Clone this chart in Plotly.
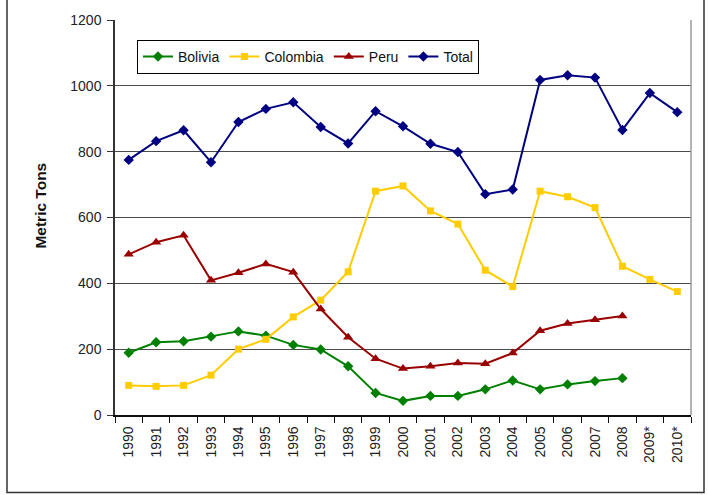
import plotly.graph_objects as go

years = ["1990", "1991", "1992", "1993", "1994", "1995", "1996", "1997", "1998", "1999",
         "2000", "2001", "2002", "2003", "2004", "2005", "2006", "2007", "2008", "2009*", "2010*"]

bolivia = [189, 221, 224, 238, 254, 241, 213, 199, 148, 67, 43, 58, 58, 78, 105, 78, 93, 103, 112, None, None]
colombia = [90, 87, 90, 121, 200, 230, 298, 349, 435, 680, 696, 620, 580, 440, 390, 680, 663, 630, 452, 412, 375]
peru = [488, 525, 546, 409, 432, 459, 434, 322, 236, 171, 141, 148, 158, 156, 188, 256, 278, 289, 301, None, None]
total = [775, 832, 865, 768, 890, 930, 950, 875, 825, 923, 877, 824, 799, 671, 685, 1018, 1032, 1025, 866, 978, 920]

y_ticks = [0, 200, 400, 600, 800, 1000, 1200]

FONT = "Liberation Sans, Arial, sans-serif"

fig = go.Figure()
series = [
    ("Bolivia", bolivia, "#008000", "diamond", 8),
    ("Colombia", colombia, "#FFCC00", "square", 7),
    ("Peru", peru, "#990000", "triangle-up", 9),
    ("Total", total, "#000080", "diamond", 8),
]
for name, vals, col, sym, sz in series:
    fig.add_trace(go.Scatter(
        x=years, y=vals, name=name, mode="lines+markers",
        line=dict(color=col, width=2),
        marker=dict(color=col, symbol=sym, size=sz),
        connectgaps=False,
    ))

L, R, T, B = 115, 17, 17, 80
W, H = 708, 495
pw, ph = W - L - R, H - T - B

def px_x(p):
    return (p - L) / pw

def px_y(p):
    return (H - B - p) / ph

fig.update_layout(
    width=W, height=H,
    margin=dict(l=L, r=R, t=T, b=B, pad=0),
    paper_bgcolor="white", plot_bgcolor="white",
    font=dict(family=FONT, size=14, color="#222222"),
    showlegend=True,
    legend=dict(
        orientation="h", x=px_x(137), y=px_y(37), xanchor="left", yanchor="top",
        bordercolor="#000000", borderwidth=1, bgcolor="white",
        font=dict(family=FONT, size=14, color="#111111"),
        itemwidth=30, tracegroupgap=0,
    ),
    xaxis=dict(
        type="category", categoryorder="array", categoryarray=years,
        range=[-0.5, len(years) - 0.5],
        showgrid=False, zeroline=False,
        showline=True, linecolor="#111111", linewidth=1.5,
        ticks="outside", tickson="boundaries", ticklen=6, tickcolor="#111111", tickwidth=1.2,
        ticklabelstandoff=4,
        tickangle=-90, tickfont=dict(family=FONT, size=14, color="#222222"),
        fixedrange=True,
    ),
    yaxis=dict(
        range=[0, 1200], tickvals=y_ticks, ticktext=[str(v) for v in y_ticks],
        showgrid=True, gridcolor="#4a4a4a", gridwidth=1.3,
        zeroline=False,
        showline=True, linecolor="#333333", linewidth=1.5,
        ticks="outside", ticklen=6, tickcolor="#333333", tickwidth=1.2,
        ticklabelstandoff=3,
        tickfont=dict(family=FONT, size=14, color="#222222"),
        fixedrange=True,
    ),
    annotations=[dict(
        text="<b>Metric Tons</b>", textangle=-90,
        xref="paper", yref="paper", x=px_x(41), y=px_y(204),
        xanchor="center", yanchor="middle", showarrow=False,
        font=dict(family=FONT, size=15.5, color="#111111"),
    )],
    shapes=[
        dict(type="line", xref="paper", yref="paper", x0=1, x1=1, y0=0, y1=1,
             line=dict(color="#9a9a9a", width=1.5)),
        dict(type="rect", xref="paper", yref="paper",
             x0=px_x(7), x1=px_x(704), y0=px_y(493), y1=px_y(-5),
             line=dict(color="#333333", width=1.5), layer="below"),
    ],
)

fig.write_html(
    "out.html",
    config={"displayModeBar": False},
    post_script="document.body.style.margin='0';document.body.style.padding='0';",
)
